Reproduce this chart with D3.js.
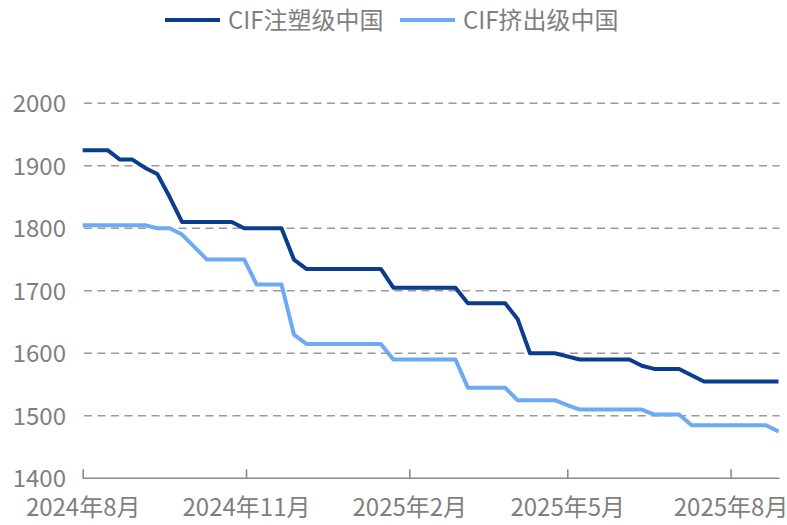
<!DOCTYPE html>
<html>
<head>
<meta charset="utf-8">
<script src="https://cdn.jsdelivr.net/npm/d3@7"></script>
<style>
  body { margin: 0; background: #fff; }
  text { font-family: "Noto Sans CJK SC", "Noto Sans", sans-serif; fill: #7f7f7f; }
</style>
</head>
<body>
<svg width="787" height="525"></svg>
<script>
// weekly dates
let dates = ["2024-08-01","2024-08-08","2024-08-15","2024-08-22","2024-08-29",
  "2024-09-05","2024-09-12","2024-09-19","2024-09-26",
  "2024-10-03","2024-10-10","2024-10-17","2024-10-24","2024-10-31",
  "2024-11-07","2024-11-14","2024-11-21","2024-11-28",
  "2024-12-05","2024-12-12","2024-12-19","2024-12-26",
  "2025-01-02","2025-01-09","2025-01-16","2025-01-23","2025-01-30",
  "2025-02-06","2025-02-13","2025-02-20","2025-02-27",
  "2025-03-06","2025-03-13","2025-03-20","2025-03-27",
  "2025-04-03","2025-04-10","2025-04-17","2025-04-24",
  "2025-05-01","2025-05-08","2025-05-15","2025-05-22","2025-05-29",
  "2025-06-05","2025-06-12","2025-06-19","2025-06-26",
  "2025-07-03","2025-07-10","2025-07-17","2025-07-24","2025-07-31",
  "2025-08-07","2025-08-14","2025-08-21","2025-08-28"]

let injection = [1925,1925,1925,1910,1910,1897,1887,1850,1810,1810,1810,1810,1810,1800,1800,1800,1800,1750,1735,
  1735,1735,1735,1735,1735,1735,1705,1705,1705,1705,1705,1705,1680,1680,1680,1680,1655,1600,1600,1600,1595,
  1590,1590,1590,1590,1590,1580,1575,1575,1575,1565,1555,1555,1555,1555,1555,1555,1555]

let extrusion = [1805,1805,1805,1805,1805,1805,1800,1800,1790,1770,1750,1750,1750,1750,1710,1710,1710,1630,1615,
  1615,1615,1615,1615,1615,1615,1590,1590,1590,1590,1590,1590,1545,1545,1545,1545,1525,1525,1525,1525,1517,
  1510,1510,1510,1510,1510,1510,1502,1502,1502,1485,1485,1485,1485,1485,1485,1485,1475]

let seriesNames = ["CIF注塑级中国", "CIF挤出级中国"]
let seriesColors = ["#0a3d8c", "#6ea9f4"]
let yTicks = [1400, 1500, 1600, 1700, 1800, 1900, 2000]
let xTicks = ["2024-08-01", "2024-11-01", "2025-02-01", "2025-05-01", "2025-08-01"]
let xTickLabels = ["2024年8月", "2024年11月", "2025年2月", "2025年5月", "2025年8月"]

let parse = d3.timeParse("%Y-%m-%d")
let svg = d3.select("svg")

let x = d3.scaleTime()
  .domain([parse(dates[0]), parse(dates[dates.length - 1])])
  .range([82.7, 778.5])
let y = d3.scaleLinear().domain([1400, 2000]).range([478.3, 103.3])

// gridlines
svg.append("g")
  .selectAll("line")
  .data(yTicks.filter(d => d > 1400))
  .enter()
  .append("line")
  .attr("x1", 84).attr("x2", 779.5)
  .attr("y1", d => y(d)).attr("y2", d => y(d))
  .attr("stroke", "#9a9a9a")
  .attr("stroke-width", 1.6)
  .attr("stroke-dasharray", "8,5.5")

// y labels
let yAxis = svg.append("g")
  .attr("transform", "translate(66,0)")
  .call(d3.axisLeft(y).tickValues(yTicks).tickSize(0).tickPadding(0).tickFormat(d3.format("d")))
yAxis.select(".domain").remove()
yAxis.selectAll("text")
  .style("font-size", "24px")
  .attr("fill", "#7f7f7f")
  .attr("dy", "0.36em")

// x axis, ticks pointing up
let xAxis = svg.append("g")
  .attr("transform", "translate(0,478.3)")
  .call(d3.axisBottom(x)
    .tickValues(xTicks.map(parse))
    .tickSize(-9)
    .tickFormat((d, i) => xTickLabels[i]))
xAxis.select(".domain")
  .attr("d", "M82.7,0H779.5")
  .attr("stroke", "#8a8a8a")
  .attr("stroke-width", 1.6)
xAxis.selectAll(".tick line").attr("stroke", "#8a8a8a").attr("stroke-width", 1.6)
xAxis.selectAll("text")
  .style("font-size", "24px")
  .attr("fill", "#7f7f7f")
  .attr("y", 21)
  .attr("dy", "0.71em")

// lines
let line = d3.line()
  .x((d, i) => x(parse(dates[i])))
  .y(d => y(d))

svg.append("g")
  .selectAll("path")
  .data([extrusion, injection])
  .enter()
  .append("path")
  .attr("d", line)
  .attr("fill", "none")
  .attr("stroke", (d, i) => i === 0 ? seriesColors[1] : seriesColors[0])
  .attr("stroke-width", 4)
  .attr("stroke-linejoin", "round")

// legend
let legend = svg.append("g")
  .selectAll("g")
  .data(seriesNames)
  .enter()
  .append("g")
  .attr("transform", (d, i) => "translate(" + (i === 0 ? 165 : 400) + ",20)")
legend.append("line")
  .attr("x1", 0).attr("x2", 55)
  .attr("stroke", (d, i) => seriesColors[i])
  .attr("stroke-width", 4)
legend.append("text")
  .attr("x", 63)
  .attr("dy", "0.36em")
  .style("font-size", "24px")
  .text(d => d)
</script>
</body>
</html>
